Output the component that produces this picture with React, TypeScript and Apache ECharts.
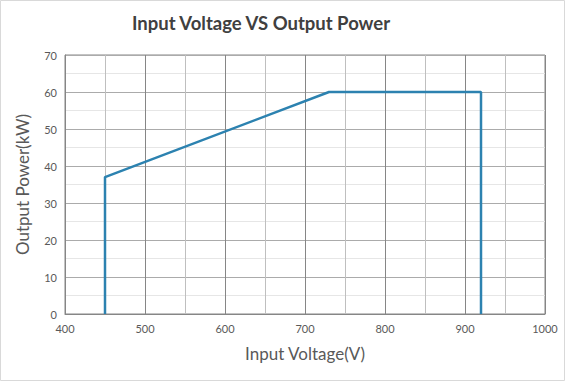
import React, { useEffect, useRef } from "react";
import * as echarts from "echarts";

const titleText = "Input Voltage VS Output Power";
const xName = "Input Voltage(V)";
const yName = "Output Power(kW)";
const voltage = [450, 450, 730, 920, 920];
const power = [0, 37, 60, 60, 0];
const xMin = 400, xMax = 1000, xStep = 50;
const yMin = 0, yMax = 70, yStep = 5;

export default function App() {
  const ref = useRef<HTMLDivElement>(null);
  useEffect(() => {
    document.body.style.margin = "0";
    const chart = echarts.init(ref.current!, null, { renderer: "svg" });
    const font = "Lato, 'Noto Sans', sans-serif";
    chart.setOption({
      animation: false,
      backgroundColor: "#fff",
      textStyle: { fontFamily: font },
      graphic: [
        {
          type: "text",
          x: 261,
          y: 23,
          style: {
            text: titleText,
            fontFamily: font,
            fontWeight: "bold",
            fontSize: 18.5,
            fill: "#404040",
            textAlign: "center",
            textVerticalAlign: "middle",
          },
        },
        {
          type: "rect",
          shape: { x: 0.5, y: 0.5, width: 564, height: 380 },
          style: { fill: "none", stroke: "#d9d9d9", lineWidth: 1 },
          silent: true,
        },
      ],
      grid: {
        left: 65,
        right: 20,
        top: 55,
        bottom: 67,
        show: true,
        borderColor: "#868686",
        borderWidth: 1,
      },
      xAxis: {
        type: "value",
        min: xMin,
        max: xMax,
        interval: xStep,
        name: xName,
        nameLocation: "middle",
        nameGap: 31,
        nameTextStyle: { fontSize: 17, color: "#595959", fontFamily: font },
        axisLine: { lineStyle: { color: "#868686" } },
        axisTick: { show: false },
        axisLabel: {
          color: "#595959",
          fontSize: 11,
          margin: 9,
          formatter: (v: number) => (v % 100 === 0 ? String(v) : ""),
        },
        splitLine: { show: true, lineStyle: { color: ["#868686", "#bfbfbf"], width: 1 } },
      },
      yAxis: {
        type: "value",
        min: yMin,
        max: yMax,
        interval: yStep,
        name: yName,
        nameLocation: "middle",
        nameGap: 34,
        nameTextStyle: { fontSize: 17, color: "#595959", fontFamily: font },
        axisLine: { show: true, lineStyle: { color: "#868686" } },
        axisTick: { show: false },
        axisLabel: {
          color: "#595959",
          fontSize: 11,
          margin: 8,
          formatter: (v: number) => (v % 10 === 0 ? String(v) : ""),
        },
        splitLine: { show: true, lineStyle: { color: ["#ababab", "#e6e6e6"], width: 1 } },
      },
      series: [
        {
          type: "line",
          data: voltage.map((v, i) => [v, power[i]]),
          showSymbol: false,
          symbol: "none",
          lineStyle: { color: "#2C82B0", width: 2.5 },
          z: 5,
        },
      ],
    });
    return () => chart.dispose();
  }, []);
  return <div ref={ref} style={{ width: 565, height: 381 }} />;
}
